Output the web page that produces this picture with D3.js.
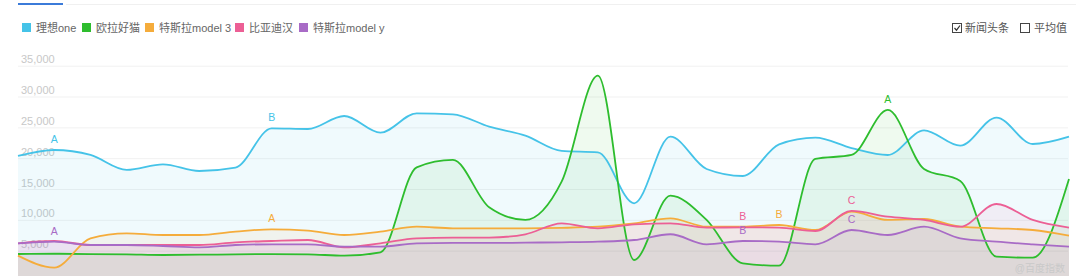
<!DOCTYPE html>
<html>
<head>
<meta charset="utf-8">
<script src="https://cdn.jsdelivr.net/npm/d3@7"></script>
<style>
  body { margin: 0; background: #fff; }
  svg { display: block; font-family: "Liberation Sans", "Noto Sans CJK SC", sans-serif; }
</style>
</head>
<body>
<div id="chart"></div>
<script>
/* CONSTANTS AND GLOBALS */
const width = 1080
const height = 276

/* DATA (30 days) */
const days = d3.range(30)
const seriesNames = ['理想one', '欧拉好猫', '特斯拉model 3', '比亚迪汉', '特斯拉model y']
const colors = ['#45c3e8', '#2ebd2e', '#f5ac3b', '#ec5f95', '#a86bc6']

const liXiangOne = [20360, 21330, 20520, 18090, 19000, 17920, 18460, 24850, 24730, 26840, 24140, 27280, 27120, 25110, 23650, 21170, 20950, 12680, 23490, 18250, 17110, 22250, 23330, 21650, 20520, 24520, 22030, 26570, 22300, 23490]
const ouLaHaoMao = [4460, 4500, 4450, 4400, 4300, 4350, 4400, 4450, 4410, 4190, 4730, 18520, 19710, 12040, 9980, 16190, 33380, 3490, 13920, 9980, 2950, 2560, 19870, 20520, 27820, 18250, 16300, 4020, 3860, 16630]
const teslaModel3 = [4190, 2240, 7010, 7820, 7540, 7540, 8080, 8470, 8240, 7540, 8080, 8890, 8630, 8630, 8630, 8700, 8890, 9440, 10250, 8890, 8890, 9160, 8350, 11320, 9980, 10140, 8890, 8630, 8350, 7430]
const bydHan = [6190, 6570, 5920, 5920, 5920, 5920, 6360, 6570, 6730, 5550, 6190, 7010, 7120, 7120, 7660, 9440, 8630, 9280, 9440, 8730, 8790, 8730, 8190, 11440, 10510, 9980, 8890, 12570, 9980, 8730]
const teslaModelY = [6190, 6460, 5920, 5920, 5760, 5550, 5920, 6030, 6030, 5650, 5650, 6190, 6250, 6250, 6300, 6360, 6460, 6730, 7660, 6030, 6570, 6460, 6030, 8350, 7540, 8890, 7010, 6460, 6030, 5650]

const yTicks = [5000, 10000, 15000, 20000, 25000, 30000, 35000]

// news-headline markers: series index, day index, letter
const markers = [
  [0, 1, 'A'], [0, 7, 'B'],
  [2, 7, 'A'], [2, 21, 'B'],
  [4, 1, 'A'], [4, 20, 'B'], [4, 23, 'C'],
  [3, 20, 'B'], [3, 23, 'C'],
  [1, 24, 'A']
]

const seriesValues = [liXiangOne, ouLaHaoMao, teslaModel3, bydHan, teslaModelY]
const series = seriesNames.map((name, k) => ({ name, color: colors[k], values: seriesValues[k] }))

/* SCALES */
const xScale = d3.scalePoint()
  .domain(days)
  .range([18, 1069])

const yScale = d3.scaleLinear()
  .domain([0, 35000])
  .range([281.5, 65.7])

/* HTML ELEMENTS */
const svg = d3.select('#chart')
  .append('svg')
  .attr('width', width)
  .attr('height', height)

// tab bar on top
svg.append('rect').attr('x', 66).attr('y', 4).attr('width', 1010).attr('height', 1).attr('fill', '#f0f0f0')
svg.append('rect').attr('x', 18).attr('y', 3).attr('width', 45).attr('height', 2).attr('fill', '#3b7bd9')

// legend
const legend = svg.append('g')
  .attr('font-size', 11)
  .attr('fill', '#666')
const legendX = [22, 82, 145, 235, 299]
series.forEach((s, k) => {
  legend.append('rect')
    .attr('x', legendX[k]).attr('y', 23)
    .attr('width', 9).attr('height', 9)
    .attr('fill', s.color)
  legend.append('text')
    .attr('x', legendX[k] + 14).attr('y', 31.5)
    .text(s.name)
})

// checkboxes on the right
const checks = svg.append('g').attr('font-size', 11).attr('fill', '#555')
checks.append('rect').attr('x', 952.5).attr('y', 23.5).attr('width', 9).attr('height', 9)
  .attr('fill', '#fff').attr('stroke', '#444')
checks.append('path').attr('d', 'M954.5,28 L956.5,30.2 L960,25.5')
  .attr('fill', 'none').attr('stroke', '#333').attr('stroke-width', 1.2)
checks.append('text').attr('x', 965).attr('y', 32).text('新闻头条')
checks.append('rect').attr('x', 1020.5).attr('y', 23.5).attr('width', 9).attr('height', 9)
  .attr('fill', '#fff').attr('stroke', '#444')
checks.append('text').attr('x', 1034).attr('y', 32).text('平均值')

// y axis with grid lines
const yAxis = svg.append('g')
  .attr('transform', 'translate(18,0)')
  .call(d3.axisRight(yScale).tickValues(yTicks).tickSize(1050).tickFormat(d3.format(',')))
yAxis.select('.domain').remove()
yAxis.selectAll('.tick line').attr('stroke', '#f1f1f1')
yAxis.selectAll('.tick text')
  .attr('x', 3).attr('dy', -3)
  .attr('font-size', 11)
  .attr('font-family', '"Liberation Sans", sans-serif')
  .attr('fill', '#c8c8c8')

const line = d3.line()
  .x((d, i) => xScale(days[i]))
  .y(d => yScale(d))
  .curve(d3.curveMonotoneX)

const area = d3.area()
  .x((d, i) => xScale(days[i]))
  .y0(yScale(0))
  .y1(d => yScale(d))
  .curve(d3.curveMonotoneX)

svg.append('g')
  .selectAll('path')
  .data(series)
  .join('path')
  .attr('d', d => area(d.values))
  .attr('fill', d => d.color)
  .attr('fill-opacity', 0.08)

svg.append('g')
  .selectAll('path')
  .data(series)
  .join('path')
  .attr('d', d => line(d.values))
  .attr('fill', 'none')
  .attr('stroke', d => d.color)
  .attr('stroke-width', 1.8)

// marker letters
svg.append('g')
  .attr('font-size', 10.5)
  .attr('text-anchor', 'middle')
  .selectAll('text')
  .data(markers)
  .join('text')
  .attr('x', d => xScale(days[d[1]]))
  .attr('y', d => yScale(series[d[0]].values[d[1]]) - 7)
  .attr('fill', d => series[d[0]].color)
  .text(d => d[2])

// watermark
svg.append('text')
  .attr('x', 1065).attr('y', 272)
  .attr('text-anchor', 'end')
  .attr('font-size', 10)
  .attr('fill', '#c9c9c9')
  .text('@百度指数')
</script>
</body>
</html>
